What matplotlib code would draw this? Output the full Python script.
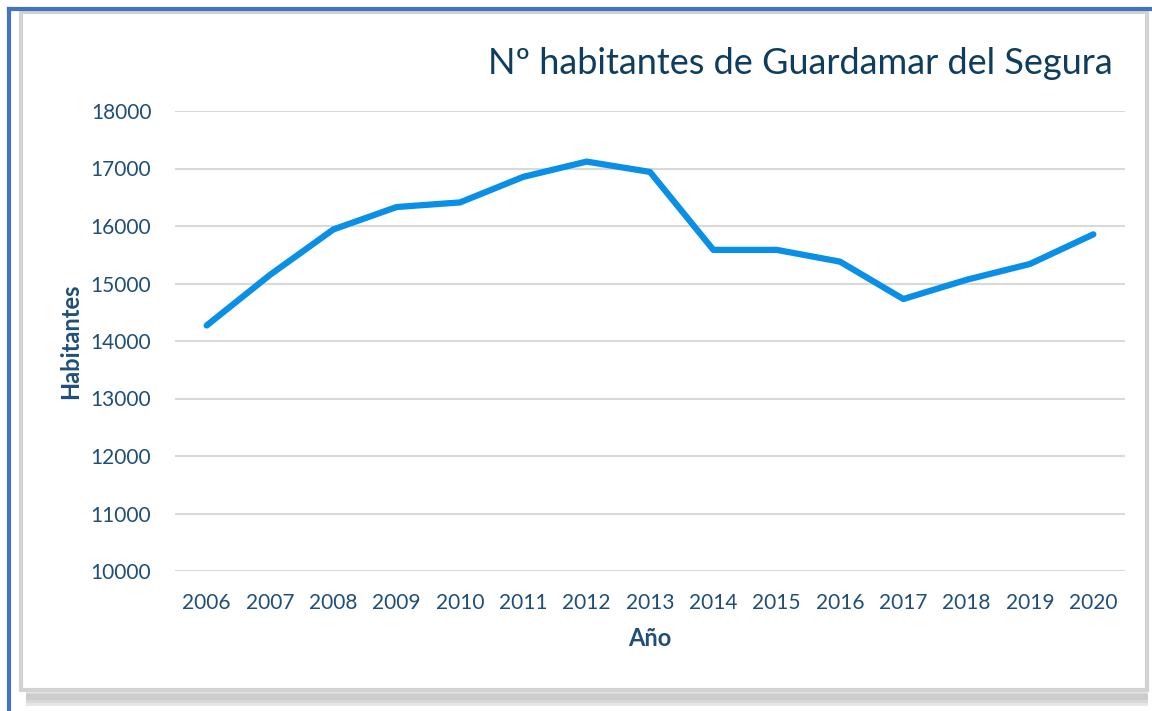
import matplotlib.pyplot as plt
from matplotlib.patches import Rectangle

years = ["2006", "2007", "2008", "2009", "2010", "2011", "2012", "2013",
         "2014", "2015", "2016", "2017", "2018", "2019", "2020"]
habitantes = [14270, 15150, 15940, 16330, 16410, 16855, 17120, 16940,
              15585, 15585, 15380, 14730, 15065, 15340, 15855]
yticks = [10000, 11000, 12000, 13000, 14000, 15000, 16000, 17000, 18000]

text_col = "#1f4e79"
title_col = "#0f3d60"

plt.rcParams["font.family"] = ["Lato", "DejaVu Sans"]

fig = plt.figure(figsize=(11.52, 7.11), dpi=100)
W, H = 1152, 711

# frame: soft shadow, grey panel edge, blue border
for i, c in enumerate(["#e6e6e6", "#d8d8d8", "#cccccc"]):
    fig.patches.append(Rectangle((26 / W, 1 - (706 - i * 3) / H), 1122 / W, (14 - i * 4) / H,
                                 transform=fig.transFigure, facecolor=c, edgecolor="none", zorder=0))
fig.patches.append(Rectangle((21 / W, 1 - 690 / H), 1126 / W, 678 / H, transform=fig.transFigure,
                             facecolor="white", edgecolor="#d2d2d2", lw=3, zorder=1))
fig.lines.append(plt.Line2D([9 / W, 9 / W], [1 - 9 / H, 0], transform=fig.transFigure,
                            color="#4472c4", lw=3, zorder=2))
fig.lines.append(plt.Line2D([9 / W, 1], [1 - 9 / H, 1 - 9 / H], transform=fig.transFigure,
                            color="#4472c4", lw=3, zorder=2))

ax = fig.add_axes([175 / W, 1 - 571 / H, 950 / W, 460 / H])
ax.set_zorder(3)
ax.patch.set_alpha(0)
x = list(range(len(years)))
ax.plot(x, habitantes, color="#0a8fe6", lw=4.5, solid_capstyle="round", solid_joinstyle="round")

ax.set_xlim(-0.5, len(years) - 0.5)
ax.set_ylim(10000, 18000)
ax.set_yticks(yticks)
ax.set_xticks(x)
ax.set_xticklabels(years)
ax.yaxis.grid(True, color="#d9d9d9", lw=1.5)
ax.set_axisbelow(True)
for s in ax.spines.values():
    s.set_visible(False)
ax.tick_params(length=0, labelsize=15, labelcolor=text_col)
ax.tick_params(axis="y", pad=17)
ax.tick_params(axis="x", pad=16)

ax.set_ylabel("Habitantes", fontsize=17, color=text_col, fontweight="bold", labelpad=6)
ax.set_xlabel("Año", fontsize=17, color=text_col, fontweight="bold", labelpad=10)

fig.text(1113 / W, 1 - 63 / H, "Nº habitantes de Guardamar del Segura", ha="right", va="center",
         fontsize=26, color=title_col, zorder=4)

fig.savefig("out.png", dpi=100)
